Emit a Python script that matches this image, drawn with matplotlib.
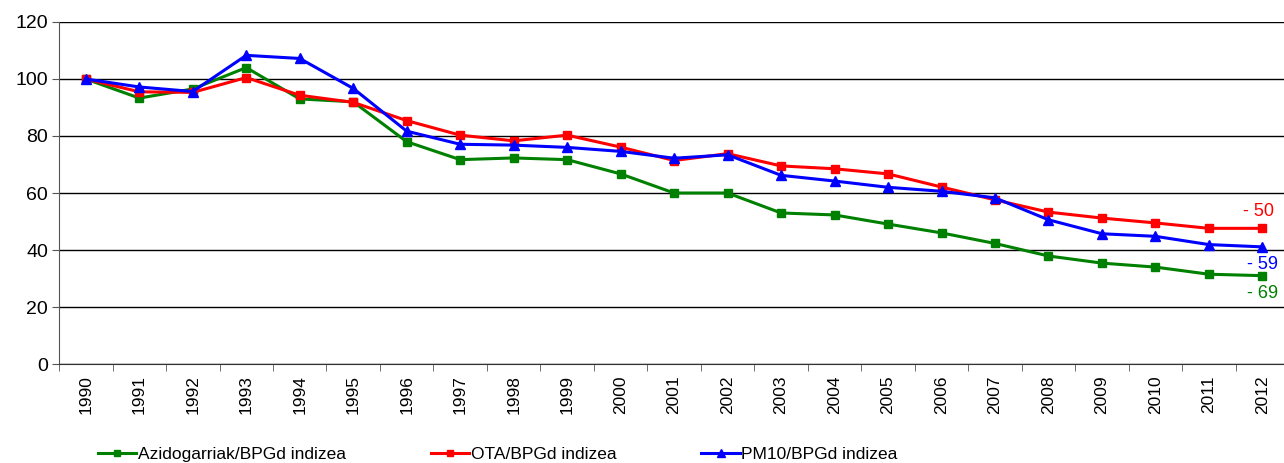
import matplotlib
matplotlib.use("Agg")
import matplotlib.pyplot as plt
import numpy as np

plt.rcParams["font.family"] = ["Liberation Sans", "DejaVu Sans"]

years = [str(y) for y in range(1990, 2013)]

azidogarriak = [100, 93.3, 96.5, 104, 93, 92, 78, 71.7, 72.3, 71.7, 66.7, 60, 60,
                53, 52.3, 49.1, 46, 42.3, 37.9, 35.4, 34, 31.5, 31]
ota = [100, 95.5, 95.3, 100.5, 94.3, 91.8, 85.4, 80.3, 78.3, 80.3, 76.1, 71.4, 73.8,
       69.5, 68.5, 66.7, 62.1, 57.6, 53.3, 51.2, 49.5, 47.6, 47.6]
pm10 = [100, 97.2, 95.6, 108.3, 107.2, 96.7, 81.7, 77.1, 76.8, 76, 74.6, 72.2, 73.4,
        66.2, 64.2, 62, 60.6, 58.3, 50.6, 45.7, 44.8, 41.9, 41.1]

series_labels = ["Azidogarriak/BPGd indizea", "OTA/BPGd indizea", "PM10/BPGd indizea"]
end_labels = ["- 69", "- 50", "- 59"]

GREEN = "#008000"
RED = "#ff0000"
BLUE = "#0000ff"

fig = plt.figure(figsize=(12.84, 4.63), dpi=100)
ax = fig.add_axes([0.046, 0.2138, 0.958, 0.7387])

x = np.arange(len(years))
ax.plot(x, azidogarriak, color=GREEN, lw=2.2, marker="s", ms=6, label=series_labels[0])
ax.plot(x, ota, color=RED, lw=2.2, marker="s", ms=6, label=series_labels[1])
ax.plot(x, pm10, color=BLUE, lw=2.2, marker="^", ms=6.5, label=series_labels[2])

# end-of-series change labels
last = len(years) - 1
ax.annotate(end_labels[1], (last, ota[-1]), xytext=(-14, 12), textcoords="offset points",
            color=RED, fontsize=13, ha="left", va="center")
ax.annotate(end_labels[2], (last, pm10[-1]), xytext=(-11, -13), textcoords="offset points",
            color=BLUE, fontsize=13, ha="left", va="center")
ax.annotate(end_labels[0], (last, azidogarriak[-1]), xytext=(-11, -13), textcoords="offset points",
            color=GREEN, fontsize=13, ha="left", va="center")

ax.set_xlim(-0.5, len(years) - 0.5)
ax.set_ylim(0, 120)
ax.set_yticks(range(0, 121, 20))
ax.tick_params(axis="y", labelsize=14, length=5, color="#555555", pad=3)

ax.set_xticks(x)
ax.set_xticklabels(years, rotation=90, fontsize=12.5)
ax.set_xticks(np.arange(-0.5, len(years), 1), minor=True)
ax.tick_params(axis="x", which="major", length=0, pad=8)
ax.tick_params(axis="x", which="minor", length=5, color="#555555")

ax.grid(axis="y", color="black", lw=1)
ax.set_axisbelow(True)
for s in ["top", "right"]:
    ax.spines[s].set_visible(False)
ax.spines["left"].set_color("#555555")
ax.spines["bottom"].set_color("#333333")

fig.legend(loc="lower left", bbox_to_anchor=(0.064, -0.032), ncol=3, frameon=False,
           fontsize=12.5, handlelength=2.2, handletextpad=0.1, columnspacing=4.9,
           markerscale=0.8)

fig.savefig("out.png", dpi=100)
